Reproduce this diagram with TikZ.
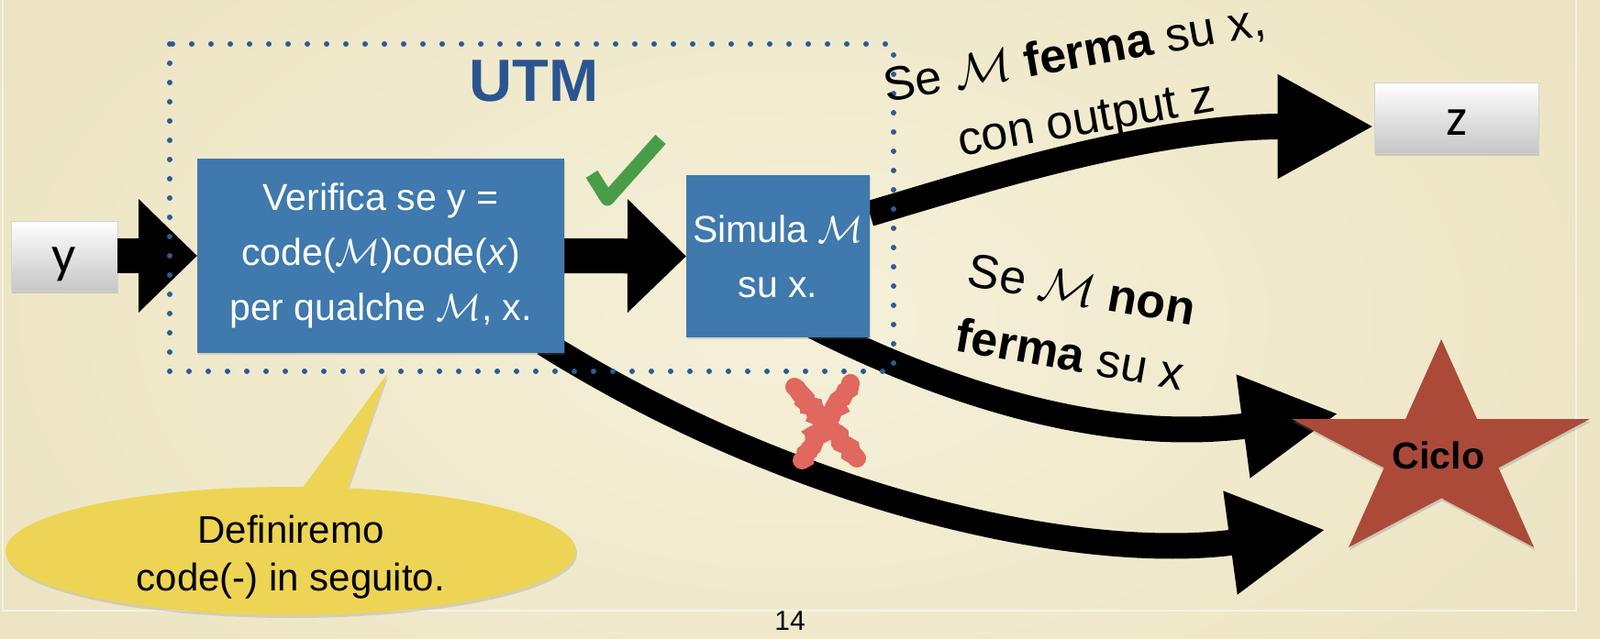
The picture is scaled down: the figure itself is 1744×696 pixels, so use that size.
\RequirePackage{fix-cm}
\documentclass[tikz,border=0pt]{standalone}
\usepackage{fontspec}
\setmainfont{Liberation Sans}
\newfontfamily\carlito{Carlito}
\usetikzlibrary{arrows.meta,shapes.callouts,shadows,decorations.pathmorphing}
\definecolor{bgin}{HTML}{F5F0D9}
\definecolor{bgout}{HTML}{ECE4C2}
\definecolor{boxblue}{HTML}{3F79AD}
\definecolor{utmblue}{HTML}{2A5590}
\definecolor{dotblue}{HTML}{2C5B95}
\definecolor{boxgray}{HTML}{C6C6C6}
\definecolor{starred}{HTML}{AC4A39}
\definecolor{calloutyellow}{HTML}{EED455}
\definecolor{checkgreen}{HTML}{4A9D48}
\definecolor{xred}{HTML}{E0685E}
\begin{document}
\begin{tikzpicture}[x=1pt,y=-1pt,
  bluebox/.style={fill=boxblue, text=white, inner sep=0pt, align=center,
    font=\fontsize{41}{60}\selectfont,
    drop shadow={opacity=0.25, shadow xshift=1pt, shadow yshift=-2pt}},
  graybox/.style={top color=white, bottom color=boxgray, draw=gray!35, line width=0.6pt,
    inner sep=0pt, text height=40pt, text depth=3pt, font=\carlito\fontsize{58}{60}\selectfont,
    drop shadow={opacity=0.3, shadow xshift=1pt, shadow yshift=-3pt}},
  straightarrow/.style={line width=38pt, -{Triangle[length=64pt,width=120pt]}},
  curvearrow/.style={line width=28pt, -{Triangle[length=105pt,width=106pt]}},
  lbl/.style={font=\fontsize{52}{72}\selectfont, align=center, inner sep=0pt},
  roughx/.style={xred, line width=20pt, line cap=round, decorate,
    decoration={random steps, segment length=4pt, amplitude=2.5pt}},
]
\useasboundingbox (0,0) rectangle (1744,696);
% background
\shade[inner color=bgin, outer color=bgout] (-150,-250) rectangle (1894,946);
\draw[white, opacity=0.55, line width=2pt] (3,-10) rectangle (1718,666);

% gray boxes
\node[graybox, minimum width=116pt, minimum height=76pt] (ybox) at (70,279) {y};
\node[graybox, minimum width=179pt, minimum height=77pt] (zbox) at (1587.5,128.5) {z};
% bases of the two arrow heads that point at the star
\coordinate (c1) at (1355,465);
\coordinate (c2) at (1341,592);

% connector end points on the blue boxes (boxes are drawn on top)
\coordinate (verifyW) at (215,279);
\coordinate (verifyE) at (615,279);
\coordinate (verifyS) at (610,385);
\coordinate (simW) at (748,279.5);
\coordinate (simE) at (948,233);
\coordinate (simS) at (905,365);

\draw[straightarrow] (ybox.east) -- (verifyW);
\draw[straightarrow] (verifyE) -- (simW);
\draw[curvearrow] (simE) .. controls (1060,200) and (1250,138) .. (zbox.186);
\draw[curvearrow, shorten <=-20pt, shorten >=-105pt]
  (simS) .. controls (1030,428) and (1205,485) .. (c1);
\draw[curvearrow, shorten <=-20pt, shorten >=-105pt]
  (verifyS) .. controls (870,548) and (1180,614) .. (c2);

% blue boxes
\node[bluebox, minimum width=400pt, minimum height=212pt] (verify) at (415,279)
  {Verifica se y =\\code($\mathcal{M}$)code(\textit{x})\\per qualche $\mathcal{M}$, x.};
\node[bluebox, minimum width=200pt, minimum height=177pt] (simula) at (848,279.5)
  {Simula $\mathcal{M}$\\su x.};

% dotted UTM frame
\draw[dotblue, line width=6pt, line cap=round, dash pattern=on 0pt off 21pt]
  (185,48) rectangle (974,405);
\node[text=utmblue, font=\fontsize{65}{70}\selectfont\bfseries] (utm) at (582,88) {UTM};

% star
\fill[starred, drop shadow={opacity=0.3, shadow xshift=1pt, shadow yshift=-3pt}]
  (1571,370) -- (1532,457) -- (1408,457) -- (1508.6,510.3) -- (1470,597) --
  (1571,543.4) -- (1672,597) -- (1633.4,510.3) -- (1733,457) -- (1610,457) -- cycle;
\node[font=\fontsize{41}{42}\selectfont\bfseries] (ciclo) at (1568,497) {Ciclo};

% labels
\node[lbl, rotate=10] (lab1) at (1178,97)
  {Se $\mathcal{M}$ \textbf{ferma} su x,\\con output z};
\node[lbl, rotate=-10] (lab2) at (1173,351)
  {Se $\mathcal{M}$ \textbf{non}\\\textbf{ferma} su x};

% check mark
\draw[checkgreen, line width=15pt, line join=round] (645,190) -- (662,217) -- (720,152);
% red cross
\draw[roughx] (866,422) -- (934,500);
\draw[roughx] (927,418) -- (874,502);

% callout
\node[ellipse callout, fill=calloutyellow, minimum width=622pt, minimum height=140pt,
  inner sep=0pt, callout absolute pointer={(422,408)}, callout pointer arc=9,
  drop shadow={opacity=0.25, shadow xshift=1pt, shadow yshift=-3pt}]
  (callout) at (317,601) {};
\node[align=center, font=\fontsize{42}{52}\selectfont, inner sep=0pt]
  (callouttext) at (317,608) {Definiremo\\code(-) in seguito.};

% page number
\node[font=\fontsize{30}{32}\selectfont] (page) at (861,677) {14};
\end{tikzpicture}
\end{document}
